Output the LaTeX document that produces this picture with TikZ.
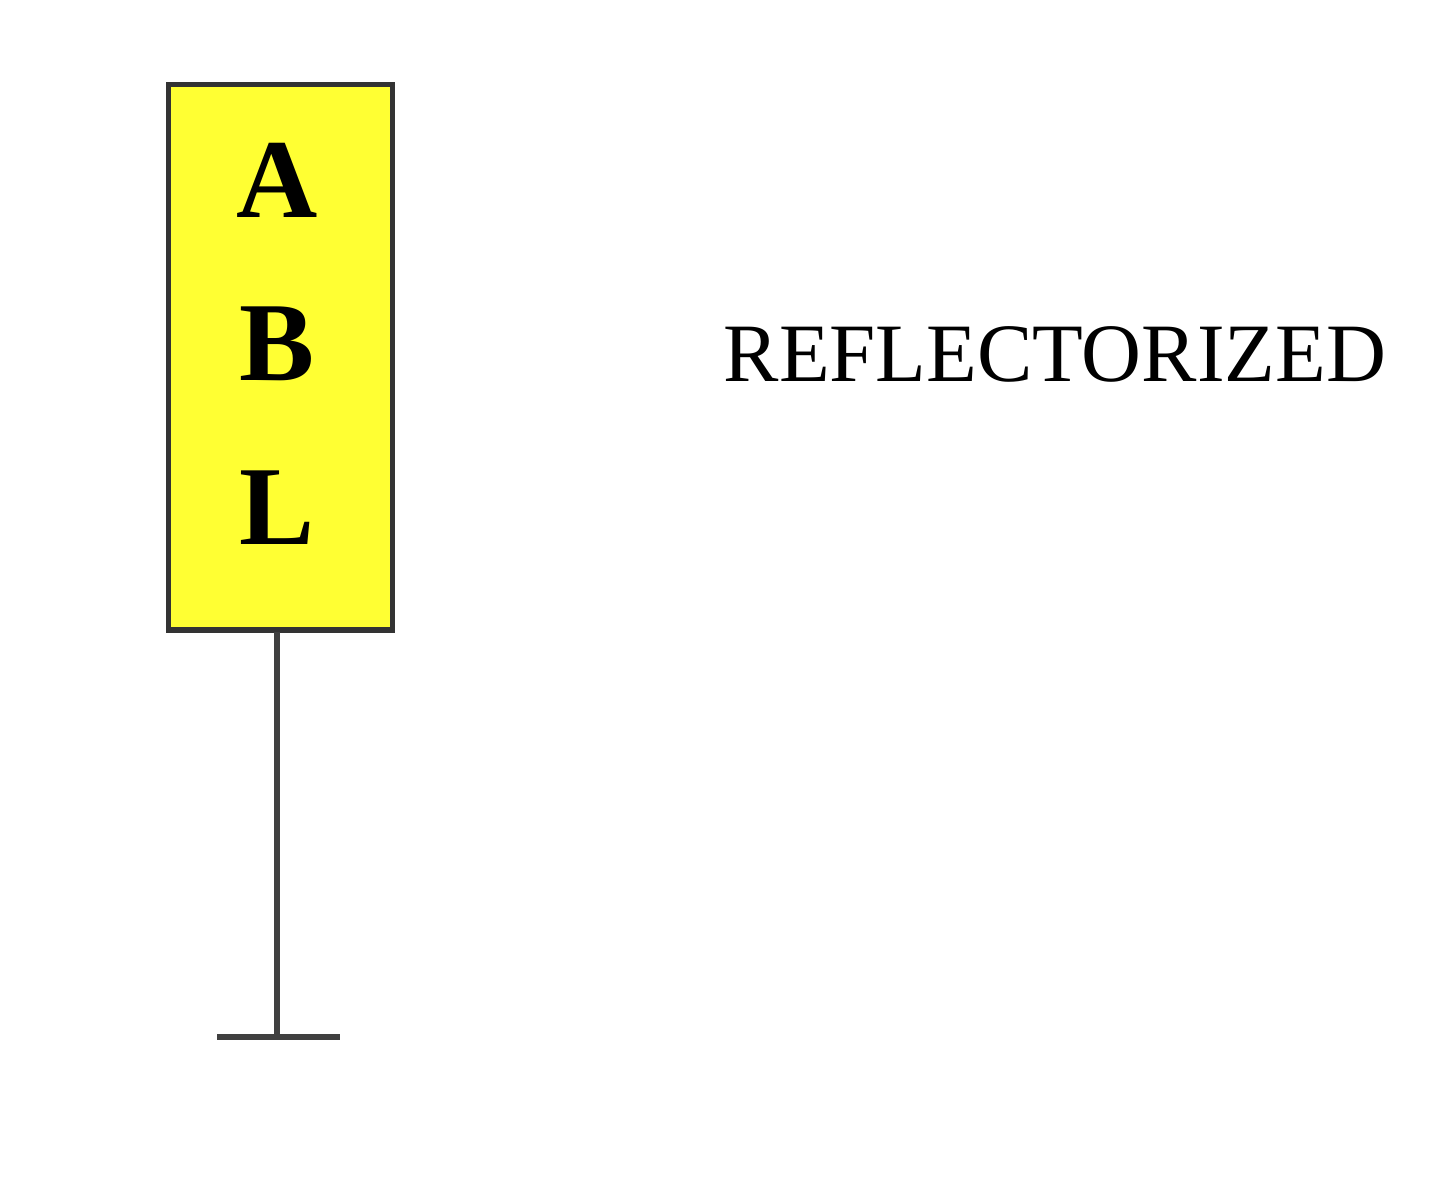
\documentclass[tikz,border=0pt]{standalone}
\usepackage{fontspec}
\setmainfont{Liberation Serif}
\definecolor{signyellow}{HTML}{FFFF33}
\definecolor{postgray}{HTML}{404040}
\tikzset{
  sign/.style={draw=black!80, line width=1.5pt, fill=signyellow},
  letter/.style={font=\fontsize{32}{38}\selectfont\bfseries, inner sep=0pt, anchor=base},
  post/.style={draw=postgray, line width=1.8pt},
  caption/.style={font=\fontsize{23.6}{28}\selectfont, inner sep=0pt, anchor=base west}
}
\begin{document}
\begin{tikzpicture}[x=0.01cm,y=-0.01cm]
\useasboundingbox (0,0) rectangle (1440,1198);
\node[sign, minimum width=2.24cm, minimum height=5.45cm, inner sep=0pt, anchor=north west] (box) at (166,82) {};
\node[letter] (a) at (277,218) {A};
\node[letter] (b) at (277,381) {B};
\node[letter] (l) at (277,545) {L};
\coordinate (top) at (277,632);
\coordinate (foot) at (277,1037);
\coordinate (fl) at (217,1037);
\coordinate (fr) at (340,1037);
\draw[post] (top) -- (foot);
\draw[post] (fl) -- (fr);
\node[caption] (cap) at (723,382) {REFLECTORIZED};
\end{tikzpicture}
\end{document}
